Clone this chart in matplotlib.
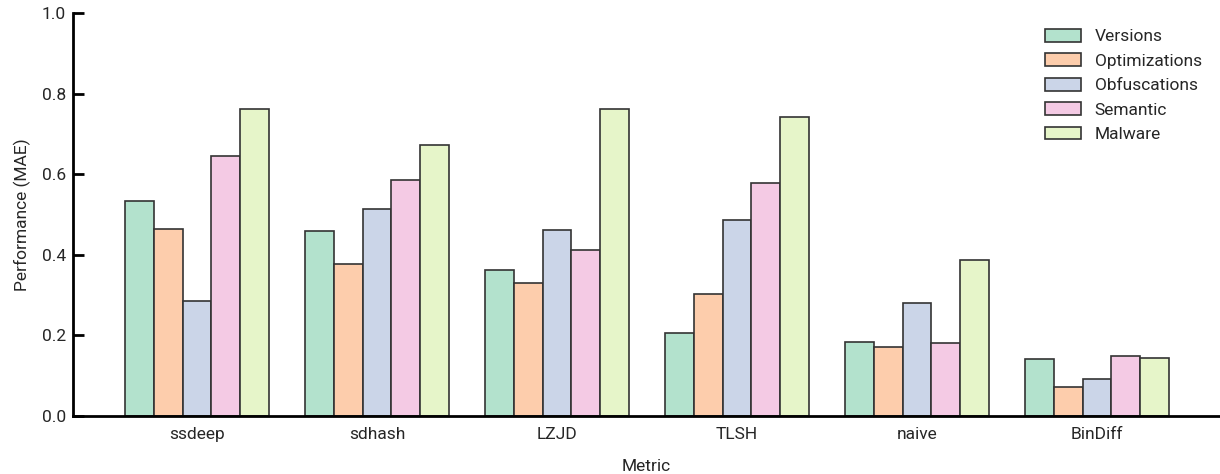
import numpy as np
import matplotlib
matplotlib.use("Agg")
import matplotlib.pyplot as plt

plt.rcParams['font.family'] = ['Roboto', 'DejaVu Sans']

metrics = ["ssdeep", "sdhash", "LZJD", "TLSH", "naive", "BinDiff"]
series = ["Versions", "Optimizations", "Obfuscations", "Semantic", "Malware"]

versions = [0.533, 0.459, 0.362, 0.206, 0.184, 0.142]
optimizations = [0.463, 0.377, 0.330, 0.303, 0.171, 0.072]
obfuscations = [0.286, 0.514, 0.461, 0.486, 0.281, 0.091]
semantic = [0.644, 0.586, 0.412, 0.578, 0.182, 0.148]
malware = [0.763, 0.672, 0.761, 0.742, 0.386, 0.145]

colors = ["#b3e2cd", "#fdcdac", "#cbd5e8", "#f4cae4", "#e6f5c9"]
text_color = "#262626"
fs = 12.5

fig = plt.figure(figsize=(12.2, 4.74), dpi=100)
ax = fig.add_axes([73 / 1220, 58 / 474, 1 - 73 / 1220, 403 / 474])

x = np.arange(len(metrics))
width = 0.16
all_vals = [versions, optimizations, obfuscations, semantic, malware]
for i, (name, vals) in enumerate(zip(series, all_vals)):
    ax.bar(x + (i - 2) * width, vals, width=width, color=colors[i],
           edgecolor="#333333", linewidth=1.2, label=name)

ax.set_xlim(-0.689, 5.683)
ax.set_ylim(0, 1.0)
ax.set_xticks(x)
ax.set_xticklabels(metrics)
ax.set_yticks([0, 0.2, 0.4, 0.6, 0.8, 1.0])
ax.tick_params(axis="x", length=0, pad=8, labelsize=fs, labelcolor=text_color)
ax.tick_params(axis="y", direction="in", length=8, width=2, pad=5,
               labelsize=fs, labelcolor=text_color)

for side in ["top", "right"]:
    ax.spines[side].set_visible(False)
for side in ["left", "bottom"]:
    ax.spines[side].set_linewidth(2)
    ax.spines[side].set_color("black")

ax.set_xlabel("Metric", fontsize=fs, color=text_color, labelpad=12)
ax.set_ylabel("Performance (MAE)", fontsize=fs, color=text_color, labelpad=8)

ax.legend(loc="upper left", bbox_to_anchor=(1045 / 1220, 1 - 29 / 474),
          bbox_transform=fig.transFigure, frameon=False, fontsize=fs,
          borderpad=0, borderaxespad=0, handlelength=2.07, handleheight=0.75,
          handletextpad=0.8, labelspacing=0.52, labelcolor=text_color)

fig.savefig("out.png", dpi=100)
